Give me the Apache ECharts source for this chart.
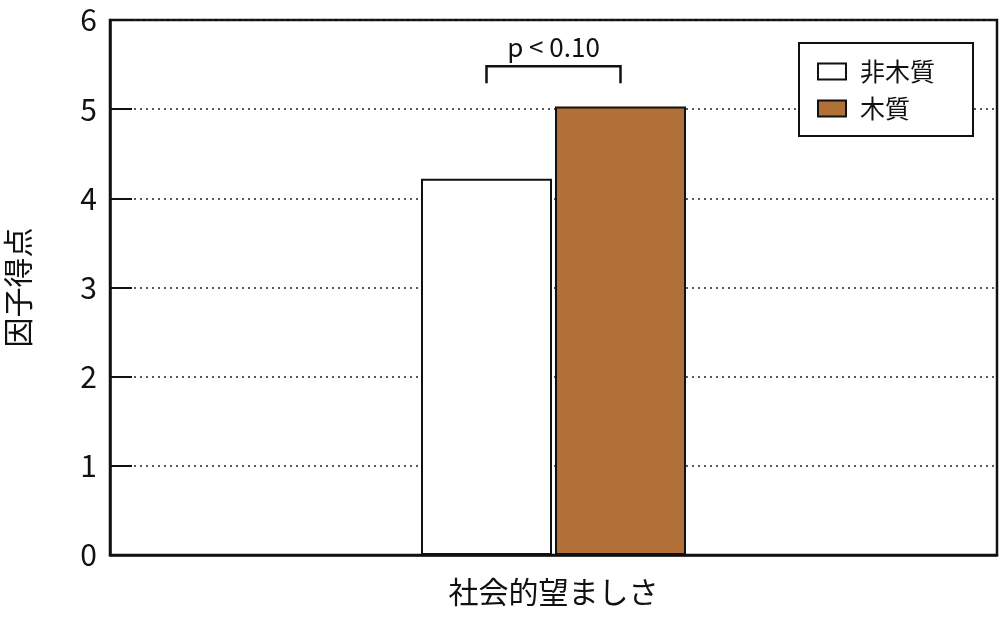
<!DOCTYPE html>
<html>
<head>
<meta charset="utf-8">
<script src="https://cdn.jsdelivr.net/npm/echarts@6/dist/echarts.min.js"></script>
<style>html,body{margin:0;padding:0;background:#fff}#c{width:1000px;height:642px}</style>
</head>
<body>
<div id="c"></div>
<script>
const categories = ['社会的望ましさ'];
const seriesNames = ['非木質', '木質'];
const nonWoodValues = [4.22];
const woodValues = [5.03];
const yTicks = [0, 1, 2, 3, 4, 5, 6];
const bracketLow = [5.29];
const bracketHigh = [5.48];
const bracketLabel = 'p < 0.10';

const FONT = '"Noto Sans CJK JP", "Noto Sans", sans-serif';
const chart = echarts.init(document.getElementById('c'));
const BAR_W = 131;
const BAR_GAP_PX = 3;

chart.setOption({
  animation: false,
  backgroundColor: '#fff',
  textStyle: { fontFamily: FONT, color: '#111' },
  grid: { left: 110, right: 3, top: 20, bottom: 87, show: true, borderColor: '#111', borderWidth: 2.5, backgroundColor: 'transparent', outerBoundsMode: 'none', containLabel: false },
  legend: {
    data: seriesNames,
    orient: 'vertical',
    left: 799,
    top: 43,
    backgroundColor: '#fff',
    borderColor: '#111',
    borderWidth: 2,
    borderRadius: 0,
    padding: [16, 38, 15, 18],
    itemWidth: 28,
    itemHeight: 16,
    itemGap: 12,
    icon: 'rect',
    textStyle: { fontFamily: FONT, fontSize: 25, color: '#111', lineHeight: 25, padding: [0, 0, 0, 9] }
  },
  xAxis: {
    type: 'category',
    data: categories,
    axisLine: { show: true, lineStyle: { color: '#111', width: 2.5 } },
    axisTick: { show: false },
    axisLabel: { fontFamily: FONT, fontSize: 30, color: '#111', margin: 22 }
  },
  yAxis: {
    type: 'value',
    min: yTicks[0],
    max: yTicks[yTicks.length - 1],
    interval: 1,
    name: '因子得点',
    nameLocation: 'middle',
    nameRotate: 90,
    nameGap: 77,
    nameTextStyle: { fontFamily: FONT, fontSize: 30, color: '#111' },
    axisLine: { show: true, lineStyle: { color: '#111', width: 2.5 } },
    axisTick: { show: true, inside: true, length: 22, lineStyle: { color: '#111', width: 2 } },
    axisLabel: { fontFamily: FONT, fontSize: 30, color: '#111', margin: 13 },
    splitLine: { show: true, lineStyle: { color: '#222', width: 1.5, type: [2, 4] } }
  },
  series: [
    {
      name: seriesNames[0], type: 'bar', data: nonWoodValues, barWidth: BAR_W, barGap: '2.3%',
      itemStyle: { color: '#ffffff', borderColor: '#111', borderWidth: 2 }, z: 3
    },
    {
      name: seriesNames[1], type: 'bar', data: woodValues, barWidth: BAR_W,
      itemStyle: { color: '#B07038', borderColor: '#111', borderWidth: 2 }, z: 3
    },
    {
      type: 'custom',
      name: 'bracket',
      silent: true,
      data: categories.map((c, i) => [i, bracketLow[i], bracketHigh[i]]),
      encode: { x: 0, y: [1, 2] },
      z: 5,
      renderItem: function (params, api) {
        const lo = api.coord([api.value(0), api.value(1)]);
        const hi = api.coord([api.value(0), api.value(2)]);
        const off = (BAR_W + BAR_GAP_PX) / 2;
        const xl = lo[0] - off, xr = lo[0] + off;
        return {
          type: 'group',
          children: [
            { type: 'polyline', shape: { points: [[xl, lo[1]], [xl, hi[1]], [xr, hi[1]], [xr, lo[1]]] },
              style: { stroke: '#111', lineWidth: 2.5, fill: null } },
            { type: 'text', x: lo[0], y: hi[1] - 19,
              style: { text: bracketLabel, fontFamily: FONT, fontSize: 26, fill: '#111', align: 'center', verticalAlign: 'middle' } }
          ]
        };
      }
    }
  ]
});
</script>
</body>
</html>
